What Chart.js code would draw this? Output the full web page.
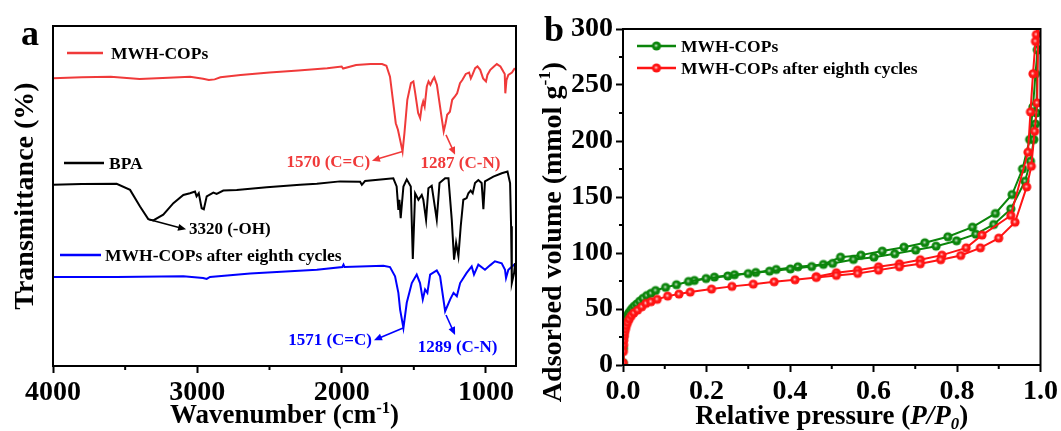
<!DOCTYPE html>
<html><head><meta charset="utf-8">
<script src="https://cdn.jsdelivr.net/npm/chart.js@4.4.0/dist/chart.umd.min.js"></script>
<style>
html,body{margin:0;padding:0;background:#fff;width:1061px;height:431px;overflow:hidden}
#wa{position:absolute;left:0;top:0;width:530px;height:431px}
#wb{position:absolute;left:530px;top:0;width:531px;height:431px}
</style></head><body>
<div id="wa"><canvas id="ca" width="530" height="431"></canvas></div>
<div id="wb"><canvas id="cb" width="531" height="431"></canvas></div>
<script>
const FONT = "'Liberation Serif','Times New Roman',Times,serif";

// ---------- Panel a : FTIR (wavenumber cm-1, transmittance a.u.) ----------
const wnMWH = [4000,3800,3600,3400,3200,3050,2960,2920,2880,2840,2700,2500,2300,2100,2000,1990,1900,1800,1720,1690,1665,1645,1625,1610,1595,1578,1565,1545,1520,1503,1490,1470,1456,1445,1435,1425,1410,1398,1385,1370,1358,1340,1325,1305,1293,1280,1269,1250,1234,1215,1200,1180,1164,1140,1117,1105,1094,1075,1059,1040,1020,1000,990,970,945,925,900,880,870,866,858,845,820,800];
const tMWH  = [84.6,84.9,85.1,84.4,84.8,85.1,84.5,84.1,84.3,84.9,85.6,86.3,86.9,87.6,88.1,87.5,88.5,88.8,88.8,88.3,85.1,78.3,71.4,69.5,66.5,63.1,68.5,78.3,83.2,83.7,80.2,74.4,72.9,76.3,77.8,76.3,82.2,83.7,82.7,84.1,84.9,82.7,78.3,72.4,69.0,71.4,73.9,74.8,78.3,79.3,80.2,83.2,84.1,85.9,86.3,84.6,85.6,87.6,88.1,87.1,84.6,83.7,85.6,87.1,88.1,88.8,88.1,86.6,85.9,80.2,84.1,85.6,86.3,87.6];

const wnBPA = [4000,3800,3559,3466,3397,3340,3305,3236,3166,3097,3051,3016,3005,2990,2970,2955,2935,2889,2866,2820,2727,2519,2288,2172,2011,1872,1860,1838,1711,1642,1619,1607,1600,1591,1572,1549,1521,1507,1491,1468,1445,1434,1415,1399,1376,1365,1341,1322,1283,1260,1237,1221,1207,1191,1175,1157,1134,1122,1106,1092,1076,1053,1030,1018,1007,949,891,851,833,826,821,805,798];
const tBPA  = [53.3,53.5,53.6,51.8,46.9,43.2,42.8,44.5,47.9,50.3,50.8,51.3,49.9,50.8,46.4,46.1,49.9,51.0,50.6,51.6,51.8,52.6,53.3,53.6,54.3,54.2,53.3,54.4,54.9,55.2,52.8,45.9,48.9,43.5,52.8,54.9,52.8,31.5,50.8,48.9,50.3,48.9,43.0,52.3,53.0,49.9,43.0,53.8,55.2,55.2,43.0,31.3,36.2,32.3,41.1,48.9,49.4,50.8,51.6,50.8,53.8,54.7,53.8,46.1,54.3,55.7,56.7,57.2,53.8,41.1,24.4,27.4,30.3];

const wnCyc = [4000,3559,3097,2960,2935,2912,2634,2172,1995,1987,1980,1711,1665,1630,1607,1595,1572,1549,1514,1480,1457,1438,1422,1406,1387,1341,1318,1283,1248,1225,1202,1179,1134,1099,1083,1053,1007,972,938,891,868,861,845,798];
const tCyc  = [26.2,26.2,26.4,25.9,25.6,26.2,27.2,28.3,29.1,29.8,29.1,29.5,29.1,26.4,21.5,16.6,11.2,18.6,24.4,26.9,24.4,19.6,22.5,21.5,26.9,28.1,26.4,16.1,19.6,21.5,20.5,24.4,27.4,29.3,26.9,29.8,28.3,29.6,30.8,30.2,28.3,25.9,28.3,30.1];

const ftirSeriesNames = ['MWH-COPs','BPA','MWH-COPs after eighth cycles'];
const ftirTickValues  = [4000,3000,2000,1000];
const ftirMinorTicks  = [3500,2500,1500];
const ftirPeakLabels  = ['1570 (C=C)','1287 (C-N)','3320 (-OH)','1571 (C=C)','1289 (C-N)'];
const ftirPeakWn      = [1578,1277,3335,1574,1277];
const ftirPeakT       = [63.1,68.0,43.1,11.2,15.0];

// ---------- Panel b : N2 isotherm ----------
const pGreenAds = [0.0005,0.001,0.0015,0.002,0.003,0.004,0.006,0.008,0.011,0.014,0.018,0.022,0.027,0.033,0.040,0.048,0.057,0.067,0.078,0.102,0.128,0.157,0.199,0.251,0.300,0.351,0.401,0.452,0.502,0.552,0.601,0.651,0.701,0.750,0.799,0.845,0.888,0.929,0.963,0.976,0.984,0.988,0.990,0.993];
const vGreenAds = [2,15,25,30,34,37,40,42,44.5,46.5,48.5,50.5,52.5,54.5,57,59.5,62,64,66.5,69.3,71.7,74.6,77.2,79.5,81.6,83.8,85.8,87.9,90.7,94.2,96.3,99.3,102.6,106.1,110.9,116.8,125.5,139.4,164.1,182,201.3,215.2,225,281.5];
const pGreenDes = [0.993,0.988,0.982,0.974,0.957,0.932,0.892,0.837,0.778,0.723,0.673,0.621,0.570,0.521,0.480,0.419,0.367,0.318,0.267,0.219,0.171];
const vGreenDes = [281.5,260.1,230.4,201.3,175.1,152.2,135.3,123.1,114.5,109.1,105.2,101.7,98.1,96.3,89.8,87.7,85.3,82.6,80.6,78.5,75.5];
const pRedAds = [0.0005,0.001,0.0015,0.002,0.003,0.004,0.006,0.008,0.011,0.015,0.020,0.026,0.035,0.045,0.055,0.067,0.082,0.107,0.134,0.161,0.212,0.261,0.312,0.362,0.412,0.463,0.511,0.562,0.612,0.662,0.712,0.761,0.809,0.856,0.900,0.939,0.967,0.978,0.986,0.992,0.995];
const vRedAds = [2,12,18,22,26,29,32,35,38,41,44,46.5,49,52,55,56.5,58.6,61.5,63.3,65.1,67.8,70.2,72.2,74.3,76.1,78.2,80,81.8,84.7,87.7,90.4,94,97.8,104.6,113.3,127.5,159,177.5,208.7,234,310];
const pRedDes = [0.995,0.990,0.988,0.982,0.976,0.970,0.929,0.860,0.822,0.764,0.712,0.662,0.612,0.562,0.511,0.463];
const vRedDes = [310,295,289,260,226,190,133.5,116,104.6,98.1,94,90.4,87.7,84.7,82.4,78.8];

const isoSeriesNames = ['MWH-COPs','MWH-COPs after eighth cycles'];
const isoXTicks = [0,0.2,0.4,0.6,0.8,1.0];
const isoXMinor = [0.1,0.3,0.5,0.7,0.9];
const isoYTicks = [0,50,100,150,200,250,300];
const isoYMinor = [25,75,125,175,225,275];

// ---------- styles ----------
const A_RED='#f03a3a', A_BLU='#0000ff', A_BLK='#000000';
const B_GRN='#0b850b', B_RED='#ff1414';

function ball(color, r){
  const s = Math.ceil(2*r+2), c=document.createElement('canvas');
  c.width=s; c.height=s;
  const g=c.getContext('2d'), cx=s/2, cy=s/2;
  g.beginPath(); g.arc(cx,cy,r,0,Math.PI*2); g.fillStyle=color; g.fill();
  const grd=g.createRadialGradient(cx-0.4,cy-0.4,0,cx-0.4,cy-0.4,r*0.5);
  grd.addColorStop(0,'rgba(255,255,255,0.85)');
  grd.addColorStop(0.5,'rgba(255,255,255,0.35)');
  grd.addColorStop(1,'rgba(255,255,255,0)');
  g.fillStyle=grd; g.beginPath(); g.arc(cx,cy,r,0,Math.PI*2); g.fill();
  return c;
}
const ballG = ball(B_GRN,4.6), ballR = ball(B_RED,4.6);

function rich(ctx, segs, size, x, y, align){
  let w=0;
  const parts = segs.map(s=>{
    const fs=(s.sup||s.sub)?size*0.62:size;
    const f=(s.it?'italic ':'')+'bold '+fs+'px '+FONT;
    ctx.font=f; const ww=ctx.measureText(s.t).width; w+=ww;
    return {t:s.t,f,ww,dy:s.sup?-size*0.38:(s.sub?size*0.2:0)};
  });
  let cx = align==='center'?x-w/2:(align==='right'?x-w:x);
  ctx.textAlign='left'; ctx.textBaseline='alphabetic';
  parts.forEach(p=>{ctx.font=p.f; ctx.fillText(p.t,cx,y+p.dy); cx+=p.ww;});
}
function arrow(ctx,x1,y1,x2,y2,color){
  const a=Math.atan2(y2-y1,x2-x1), L=8, W=3.5;
  ctx.save(); ctx.strokeStyle=color; ctx.fillStyle=color; ctx.lineWidth=1.6;
  ctx.beginPath(); ctx.moveTo(x1,y1); ctx.lineTo(x2-Math.cos(a)*L*0.8,y2-Math.sin(a)*L*0.8); ctx.stroke();
  ctx.beginPath(); ctx.moveTo(x2,y2);
  ctx.lineTo(x2-Math.cos(a)*L-Math.sin(a)*W, y2-Math.sin(a)*L+Math.cos(a)*W);
  ctx.lineTo(x2-Math.cos(a)*L+Math.sin(a)*W, y2-Math.sin(a)*L-Math.cos(a)*W);
  ctx.closePath(); ctx.fill(); ctx.restore();
}
function frame(ctx, ca){
  ctx.save(); ctx.strokeStyle='#000'; ctx.lineWidth=2;
  ctx.strokeRect(ca.left, ca.top, ca.right-ca.left, ca.bottom-ca.top); ctx.restore();
}
function minorX(ctx, sc, vals, bottom){
  ctx.save(); ctx.strokeStyle='#000'; ctx.lineWidth=2;
  vals.forEach(v=>{const p=sc.getPixelForValue(v); ctx.beginPath(); ctx.moveTo(p,bottom); ctx.lineTo(p,bottom+4); ctx.stroke();});
  ctx.restore();
}
function minorY(ctx, sc, vals, left){
  ctx.save(); ctx.strokeStyle='#000'; ctx.lineWidth=2;
  vals.forEach(v=>{const p=sc.getPixelForValue(v); ctx.beginPath(); ctx.moveTo(left,p); ctx.lineTo(left-4,p); ctx.stroke();});
  ctx.restore();
}

const tickFont = {family:FONT, size:28, weight:'bold'};
const gridOpts = {display:true, drawOnChartArea:false, drawTicks:true, tickLength:7, tickWidth:2, tickColor:'#000'};

// ---------- Chart a ----------
const annotA = [
  {i:0, color:A_RED, to:[1790,60.4], at:[1802,59.7], align:'right'},
  {i:1, color:A_RED, to:[1214,62.1], at:[1177,59.6], align:'center'},
  {i:2, color:A_BLK, to:[3078,40.2], at:[3058,40.0], align:'left'},
  {i:3, color:A_BLU, to:[1776,7.6],  at:[1790,7.4],  align:'right'},
  {i:4, color:A_BLU, to:[1214,9.1],  at:[1197,5.5],  align:'center'}
];
const legendA = [
  {x1:67,x2:103,y:53, tx:111,color:A_RED},
  {x1:64,x2:104,y:163,tx:109,color:A_BLK},
  {x1:60,x2:101,y:255,tx:105,color:A_BLU}
];
const pluginA = {
  id:'decorA',
  afterDraw(chart){
    const ctx=chart.ctx, ca=chart.chartArea, xs=chart.scales.x, ys=chart.scales.y;
    frame(ctx,ca);
    minorX(ctx,xs,ftirMinorTicks,ca.bottom);
    legendA.forEach((l,k)=>{
      ctx.save(); ctx.strokeStyle=l.color; ctx.lineWidth=2.5;
      ctx.beginPath(); ctx.moveTo(l.x1,l.y); ctx.lineTo(l.x2,l.y); ctx.stroke();
      ctx.fillStyle='#000'; ctx.font='bold 17.5px '+FONT; ctx.textAlign='left'; ctx.textBaseline='middle';
      ctx.fillText(ftirSeriesNames[k], l.tx, l.y+1); ctx.restore();
    });
    annotA.forEach(a=>{
      const x1=xs.getPixelForValue(ftirPeakWn[a.i]), y1=ys.getPixelForValue(ftirPeakT[a.i]);
      const x2=xs.getPixelForValue(a.to[0]), y2=ys.getPixelForValue(a.to[1]);
      arrow(ctx,x1,y1,x2,y2,a.color);
      ctx.save(); ctx.fillStyle=a.color; ctx.font='bold 17px '+FONT; ctx.textAlign=a.align; ctx.textBaseline='middle';
      ctx.fillText(ftirPeakLabels[a.i], xs.getPixelForValue(a.at[0]), ys.getPixelForValue(a.at[1])); ctx.restore();
    });
    ctx.save(); ctx.fillStyle='#000';
    rich(ctx,[{t:'Wavenumber (cm'},{t:'-1',sup:true},{t:')'}],27,(ca.left+ca.right)/2,423,'center');
    ctx.translate(33,(ca.top+ca.bottom)/2); ctx.rotate(-Math.PI/2);
    rich(ctx,[{t:'Transmittance (%)'}],28,0,0,'center');
    ctx.restore();
    ctx.save(); ctx.fillStyle='#000'; ctx.font='bold 36px '+FONT; ctx.textAlign='left'; ctx.textBaseline='alphabetic';
    ctx.fillText('a',21,45); ctx.restore();
  }
};
const mk=(w,t)=>w.map((v,i)=>({x:v,y:t[i]}));
new Chart(document.getElementById('ca'),{
  type:'scatter',
  data:{datasets:[
    {label:ftirSeriesNames[0], data:mk(wnMWH,tMWH), borderColor:A_RED, showLine:true, pointRadius:0, borderWidth:2},
    {label:ftirSeriesNames[1], data:mk(wnBPA,tBPA), borderColor:A_BLK, showLine:true, pointRadius:0, borderWidth:2},
    {label:ftirSeriesNames[2], data:mk(wnCyc,tCyc), borderColor:A_BLU, showLine:true, pointRadius:0, borderWidth:2}
  ]},
  options:{
    responsive:false, animation:false, devicePixelRatio:1,
    layout:{padding:{top:26,right:14,left:0,bottom:0}},
    plugins:{legend:{display:false},tooltip:{enabled:false}},
    elements:{line:{tension:0}},
    scales:{
      x:{type:'linear', reverse:true, min:792, max:4000,
        afterBuildTicks:s=>{s.ticks=ftirTickValues.map(v=>({value:v}));},
        afterFit:s=>{s.height=65;},
        ticks:{font:tickFont,color:'#000',padding:3,maxRotation:0,autoSkip:false,callback:v=>String(v)},
        grid:gridOpts, border:{display:true,color:'#000',width:2}},
      y:{type:'linear', min:0, max:100, afterFit:s=>{s.width=53;},
        ticks:{display:false}, grid:{display:false}, border:{display:true,color:'#000',width:2}}
    }
  },
  plugins:[pluginA]
});

// ---------- Chart b ----------
const legendB = [
  {x1:107,x2:146,y:46,tx:151,color:B_GRN,img:ballG},
  {x1:107,x2:146,y:68,tx:151,color:B_RED,img:ballR}
];
const pluginB = {
  id:'decorB',
  afterDraw(chart){
    const ctx=chart.ctx, ca=chart.chartArea, xs=chart.scales.x, ys=chart.scales.y;
    frame(ctx,ca);
    minorX(ctx,xs,isoXMinor,ca.bottom);
    minorY(ctx,ys,isoYMinor,ca.left);
    legendB.forEach((l,k)=>{
      ctx.save(); ctx.strokeStyle=l.color; ctx.lineWidth=2.5;
      ctx.beginPath(); ctx.moveTo(l.x1,l.y); ctx.lineTo(l.x2,l.y); ctx.stroke();
      const m=(l.x1+l.x2)/2; ctx.drawImage(l.img, m-l.img.width/2, l.y-l.img.height/2);
      ctx.fillStyle='#000'; ctx.font='bold 17.5px '+FONT; ctx.textAlign='left'; ctx.textBaseline='middle';
      ctx.fillText(isoSeriesNames[k], l.tx, l.y+1); ctx.restore();
    });
    ctx.save(); ctx.fillStyle='#000';
    rich(ctx,[{t:'Relative pressure ('},{t:'P/P',it:true},{t:'0',it:true,sub:true},{t:')'}],27,(ca.left+ca.right)/2,424,'center');
    ctx.translate(31,232); ctx.rotate(-Math.PI/2);
    rich(ctx,[{t:'Adsorbed volume (mmol g'},{t:'-1',sup:true},{t:')'}],28,0,0,'center');
    ctx.restore();
    ctx.save(); ctx.fillStyle='#000'; ctx.font='bold 36px '+FONT; ctx.textAlign='left'; ctx.textBaseline='alphabetic';
    ctx.fillText('b',14,41); ctx.restore();
  }
};
const isoDs=(label,p,v,color,img)=>({label, data:mk(p,v), borderColor:color, backgroundColor:color, showLine:true,
  borderWidth:2, pointStyle:img, pointRadius:4.6});
new Chart(document.getElementById('cb'),{
  type:'scatter',
  data:{datasets:[
    isoDs(isoSeriesNames[1],pRedAds,vRedAds,B_RED,ballR),
    isoDs(isoSeriesNames[1]+' (desorption)',pRedDes,vRedDes,B_RED,ballR),
    isoDs(isoSeriesNames[0],pGreenAds,vGreenAds,B_GRN,ballG),
    isoDs(isoSeriesNames[0]+' (desorption)',pGreenDes,vGreenDes,B_GRN,ballG)
  ]},
  options:{
    responsive:false, animation:false, devicePixelRatio:1,
    layout:{padding:{top:29,right:20,left:0,bottom:0}},
    plugins:{legend:{display:false},tooltip:{enabled:false}},
    elements:{line:{tension:0}},
    scales:{
      x:{type:'linear', min:0, max:1,
        afterBuildTicks:s=>{s.ticks=isoXTicks.map(v=>({value:v}));},
        afterFit:s=>{s.height=66;},
        ticks:{font:tickFont,color:'#000',padding:3,maxRotation:0,autoSkip:false,callback:v=>Number(v).toFixed(1)},
        grid:gridOpts, border:{display:true,color:'#000',width:2}},
      y:{type:'linear', min:0, max:300,
        afterBuildTicks:s=>{s.ticks=isoYTicks.map(v=>({value:v}));},
        afterFit:s=>{s.width=93;},
        ticks:{font:tickFont,color:'#000',padding:3,autoSkip:false,callback:v=>String(v)},
        grid:gridOpts, border:{display:true,color:'#000',width:2}}
    }
  },
  plugins:[pluginB]
});
</script>
</body></html>
